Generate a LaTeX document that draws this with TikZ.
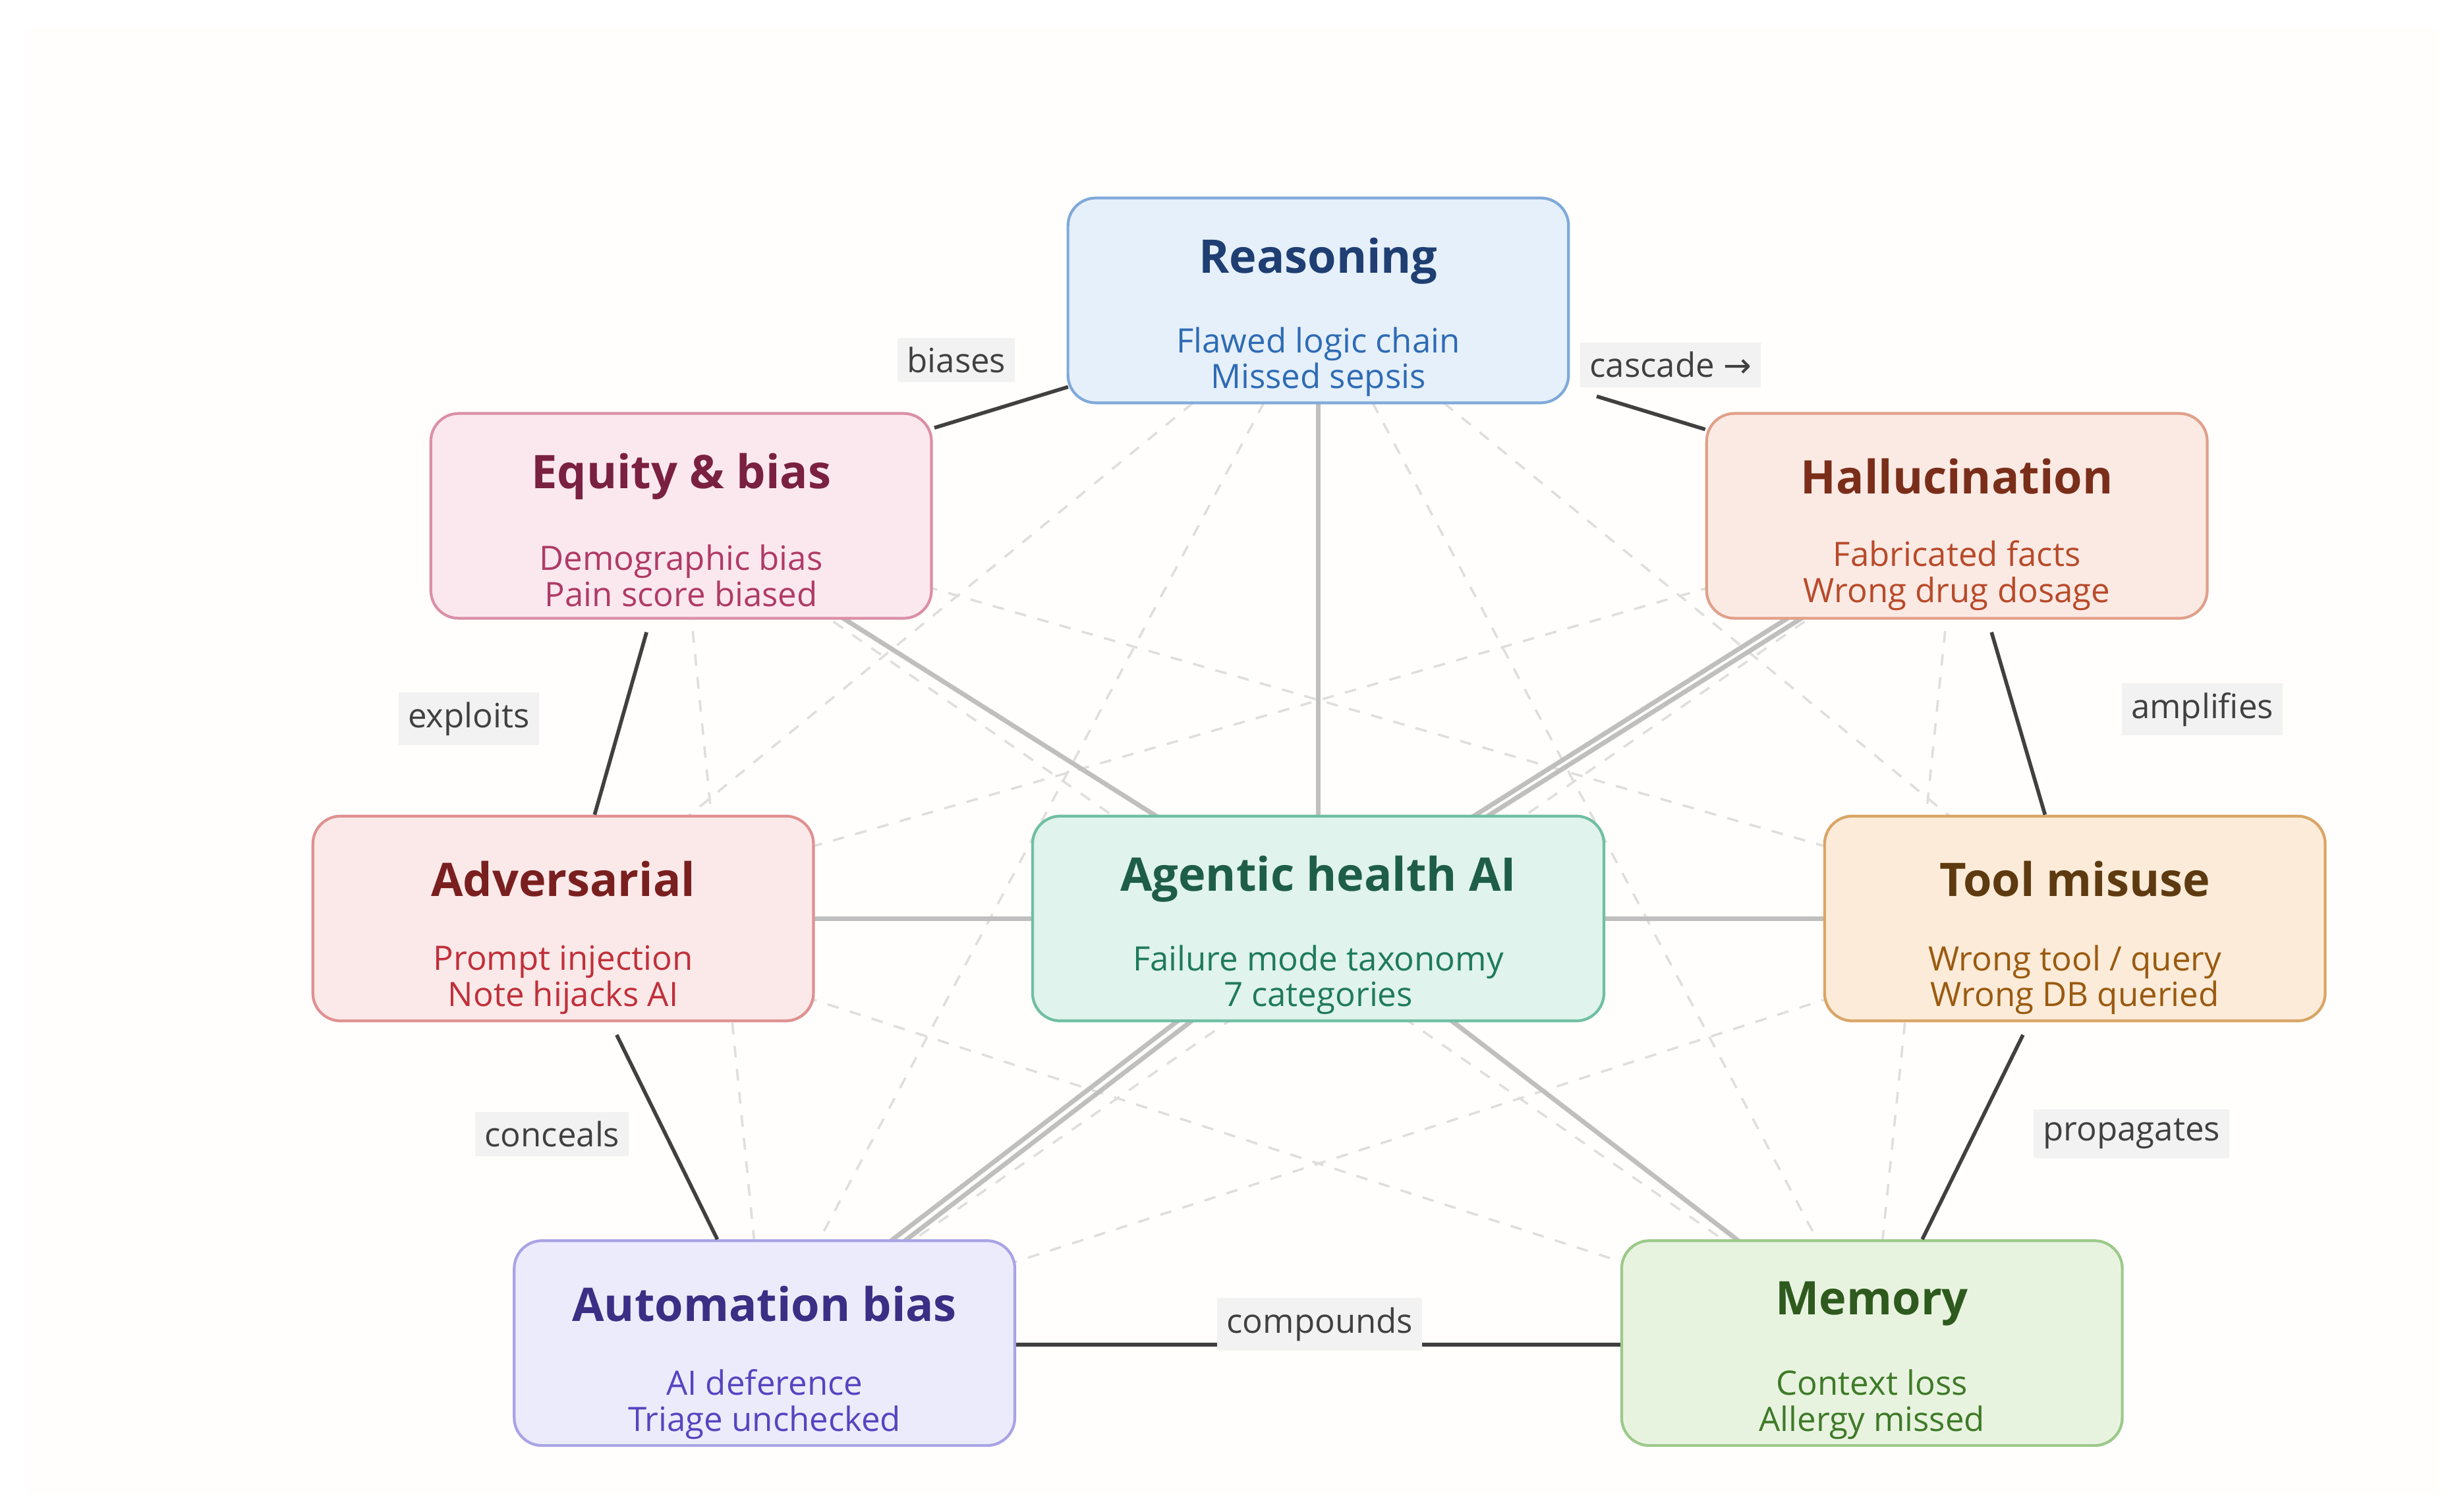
\documentclass[tikz,border=0pt]{standalone}
\usepackage{fontspec}
\setmainfont{Open Sans}
\newfontfamily\arrowfont{DejaVu Sans}
\begin{document}
\begin{tikzpicture}[x=0.02387cm,y=-0.02387cm,
  ttl/.style={font=\fontsize{20}{24}\selectfont\bfseries},
  sub/.style={font=\fontsize{14.5}{16.5}\selectfont, align=center},
  dark/.style={draw=black!75, line width=1.6pt},
  spoke/.style={draw=black!25, line width=2pt},
  faint/.style={draw=black!13, line width=1pt, dash pattern=on 5pt off 5pt},
  lab/.style={fill=black!5, inner sep=4pt, font=\fontsize{14.5}{16}\selectfont, text=black!75}]
\useasboundingbox (0,0) rectangle (1560,961);
\fill[white] (0,0) rectangle (1560,961);
\fill[black!2!orange!1!white] (17,18) rectangle (1550,950);
\definecolor{rF}{HTML}{E6F0FA}\definecolor{rB}{HTML}{7FA9DA}\definecolor{rT}{HTML}{1F3F73}\definecolor{rS}{HTML}{2E6BB5}
\definecolor{eF}{HTML}{FBE8EE}\definecolor{eB}{HTML}{DB8FA8}\definecolor{eT}{HTML}{7A2040}\definecolor{eS}{HTML}{B03A66}
\definecolor{hF}{HTML}{FBEAE4}\definecolor{hB}{HTML}{E0A08A}\definecolor{hT}{HTML}{7A2E1A}\definecolor{hS}{HTML}{B84A2A}
\definecolor{aF}{HTML}{FBE9E9}\definecolor{aB}{HTML}{E09090}\definecolor{aT}{HTML}{7A1F1F}\definecolor{aS}{HTML}{C0303A}
\definecolor{cF}{HTML}{E0F3EC}\definecolor{cB}{HTML}{6FBFA3}\definecolor{cT}{HTML}{1E5E48}\definecolor{cS}{HTML}{1F7A5C}
\definecolor{tF}{HTML}{FBEBD8}\definecolor{tB}{HTML}{D9A566}\definecolor{tT}{HTML}{5E3A10}\definecolor{tS}{HTML}{9A5A10}
\definecolor{uF}{HTML}{ECEBFB}\definecolor{uB}{HTML}{A9A3E5}\definecolor{uT}{HTML}{3A2E85}\definecolor{uS}{HTML}{5545C0}
\definecolor{mF}{HTML}{E8F3DF}\definecolor{mB}{HTML}{9CC98A}\definecolor{mT}{HTML}{2E5A1E}\definecolor{mS}{HTML}{3E7A28}
\coordinate (R) at (838,191); \coordinate (E) at (433,328); \coordinate (H) at (1244,328);
\coordinate (A) at (358,584); \coordinate (C) at (838,584); \coordinate (T) at (1319,584);
\coordinate (U) at (486,854); \coordinate (M) at (1190,854);
\foreach \p/\q in {R/A,R/T,R/U,R/M,E/T,E/U,E/M,H/A,H/U,H/M,A/T,A/M,T/U}{\draw[faint] (\p)--(\q);}
\draw[spoke] (C)--(R); \draw[spoke] (C)--(E); \draw[spoke] (C)--(A); \draw[spoke] (C)--(T); \draw[spoke] (C)--(M);
\draw[spoke] ([xshift=-3]C)--([xshift=-3]H); \draw[spoke] ([xshift=3]C)--([xshift=3]H);
\draw[spoke] ([xshift=-3]C)--([xshift=-3]U); \draw[spoke] ([xshift=3]C)--([xshift=3]U);
\newcommand\mybox[7]{%
 \node[draw=#4, fill=#3, line width=1.2pt, rounded corners=12pt, minimum width=#7*0.02387cm-1.2pt, minimum height=132*0.02387cm-1.2pt] (#1) at (#2) {};
 \node[ttl, text=#5] at ([yshift=25*0.02387cm]#1.center) {#6};}
\mybox{nR}{R}{rF}{rB}{rT}{Reasoning}{320}
\node[sub,text=rS] at (838,230) {Flawed logic chain\\[-1pt]Missed sepsis};
\mybox{nE}{E}{eF}{eB}{eT}{Equity \& bias}{320}
\node[sub,text=eS] at (433,366) {Demographic bias\\[-1pt]Pain score biased};
\mybox{nH}{H}{hF}{hB}{hT}{Hallucination}{320}
\node[sub,text=hS] at (1244,366) {Fabricated facts\\[-1pt]Wrong drug dosage};
\mybox{nA}{A}{aF}{aB}{aT}{Adversarial}{320}
\node[sub,text=aS] at (358,623) {Prompt injection\\[-1pt]Note hijacks AI};
\mybox{nC}{C}{cF}{cB}{cT}{Agentic health AI}{365}
\node[sub,text=cS] at (838,623) {Failure mode taxonomy\\[-1pt]7 categories};
\mybox{nT}{T}{tF}{tB}{tT}{Tool misuse}{320}
\node[sub,text=tS] at (1319,623) {Wrong tool / query\\[-1pt]Wrong DB queried};
\mybox{nU}{U}{uF}{uB}{uT}{Automation bias}{320}
\node[sub,text=uS] at (486,893) {AI deference\\[-1pt]Triage unchecked};
\mybox{nM}{M}{mF}{mB}{mT}{Memory}{320}
\node[sub,text=mS] at (1190,893) {Context loss\\[-1pt]Allergy missed};
\draw[dark] (594,272)--(679,246);
\draw[dark] (1015,252)--(1084,273);
\draw[dark] (411,402)--(378,518);
\draw[dark] (1266,402)--(1300,518);
\draw[dark] (392,658)--(456,788);
\draw[dark] (1286,658)--(1222,788);
\draw[dark] (nU.east |- 0,855)--(nM.west |- 0,855);
\node[lab] at (608,229) {biases};
\node[lab] at (1062,232) {cascade {\arrowfont →}};
\node[lab] at (298,457) {exploits};
\node[lab] at (1400,451) {amplifies};
\node[lab] at (351,721) {conceals};
\node[lab] at (1355,721) {propagates};
\node[lab] at (839,842) {compounds};
\end{tikzpicture}
\end{document}
